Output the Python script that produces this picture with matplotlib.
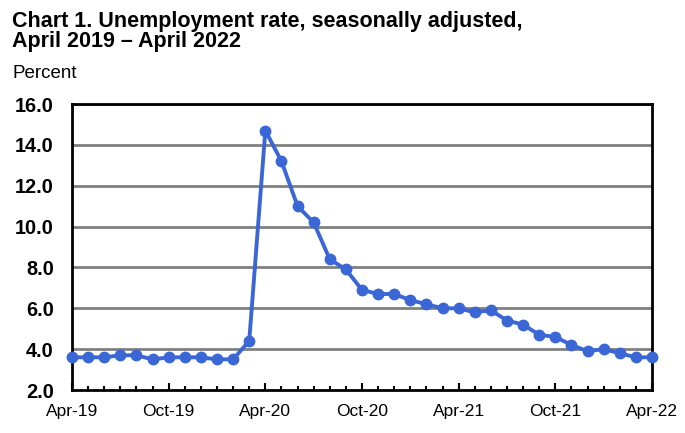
import matplotlib
matplotlib.use("Agg")
import matplotlib.pyplot as plt
from matplotlib.ticker import MultipleLocator

plt.rcParams['font.family'] = ['Liberation Sans', 'DejaVu Sans']

months = list(range(37))
rates = [3.6, 3.6, 3.6, 3.7, 3.7, 3.5, 3.6, 3.6, 3.6, 3.5, 3.5, 4.4,
         14.7, 13.2, 11.0, 10.2, 8.4, 7.9, 6.9, 6.7, 6.7, 6.4, 6.2, 6.0,
         6.0, 5.8, 5.9, 5.4, 5.2, 4.7, 4.6, 4.2, 3.9, 4.0, 3.8, 3.6, 3.6]
tick_pos = [0, 6, 12, 18, 24, 30, 36]
tick_labels = ["Apr-19", "Oct-19", "Apr-20", "Oct-20", "Apr-21", "Oct-21", "Apr-22"]
y_ticks = [2.0, 4.0, 6.0, 8.0, 10.0, 12.0, 14.0, 16.0]

fig = plt.figure(figsize=(6.85, 4.33), dpi=100)
ax = fig.add_axes([72/685, 1-390/433, (652-72)/685, (390-104)/433])

for y in y_ticks[1:]:
    ax.axhline(y, color='#808080', lw=2.0, zorder=1)

ax.plot(months, rates, color='#3A66D6', lw=2.8, marker='o', ms=7.5,
        markerfacecolor='#3A66D6', markeredgecolor='#3A66D6', zorder=3, clip_on=False)

ax.set_xlim(0, 36)
ax.set_ylim(2.0, 16.0)
ax.set_yticks(y_ticks)
ax.set_yticklabels([f"{v:.1f}" for v in y_ticks], fontsize=14.3, fontweight='bold')
ax.set_xticks(tick_pos)
ax.set_xticklabels(tick_labels, fontsize=12.5)
ax.xaxis.set_minor_locator(MultipleLocator(1))
ax.tick_params(axis='x', which='major', direction='in', length=5, width=1.5, pad=10)
ax.tick_params(axis='x', which='minor', direction='in', length=3, width=1.5)
ax.tick_params(axis='y', which='both', length=0, pad=13)

for s in ax.spines.values():
    s.set_color('black')
    s.set_linewidth(2.0)

fig.text(12/685, 1-21/433, "Chart 1. Unemployment rate, seasonally adjusted,", fontsize=15.5,
         fontweight='bold', ha='left', va='center')
fig.text(12/685, 1-42/433, "April 2019 \u2013 April 2022", fontsize=15.5,
         fontweight='bold', ha='left', va='center')
fig.text(12/685, 1-74/433, "Percent", fontsize=13.5, ha='left', va='center')

fig.savefig("out.png", dpi=100)
